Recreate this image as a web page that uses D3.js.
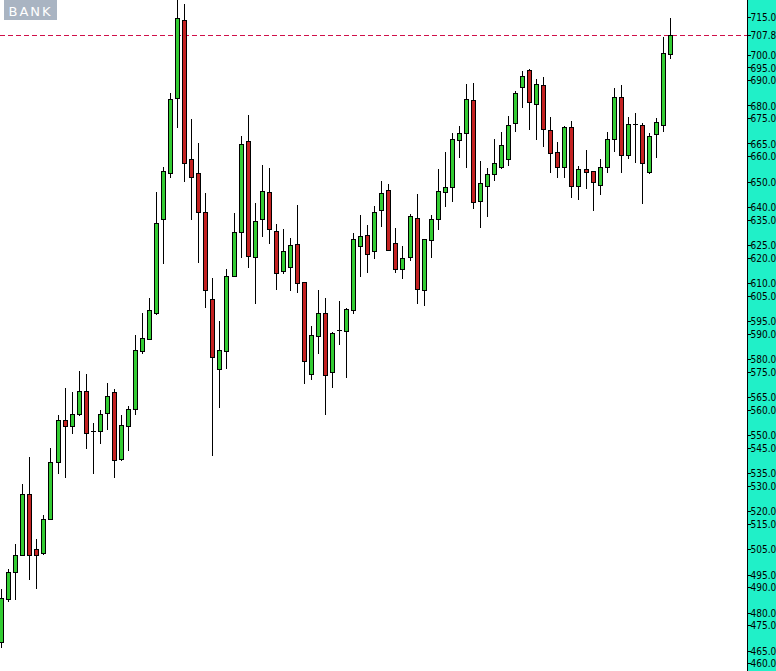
<!DOCTYPE html>
<html>
<head>
<meta charset="utf-8">
<script src="https://cdn.jsdelivr.net/npm/d3@7/dist/d3.min.js"></script>
<style>
html,body{margin:0;padding:0;background:#fff;overflow:hidden;}
svg{display:block;}
</style>
</head>
<body>
<svg id="chart" width="776" height="671"></svg>
<script>
const symbol = "BANK";
const openP = [468.4,485.4,496.2,502.9,526.6,504.9,503.6,517.1,539.2,555.8,553.4,558.2,567.2,551.7,551.7,558.9,566.8,540.5,553.7,560.1,
583.2,588.0,598.0,635.1,653.5,682.8,713.7,658.7,653.2,637.8,603.5,576.1,583.2,612.8,629.9,665.8,620.1,635.3,645.8,630.5,
614.6,616.1,625.3,610.2,574.2,589.2,598.1,575.0,591.4,591.1,599.3,624.4,628.8,622.5,638.6,646.5,625.6,615.4,620.1,635.5,
607.2,626.8,635.1,645.7,647.7,666.2,669.0,682.0,642.4,648.1,652.8,655.8,658.7,672.9,687.1,693.9,680.6,688.1,670.3,661.5,
655.6,671.4,648.3,654.8,654.1,648.7,655.6,666.6,683.2,660.6,672.6,672.2,653.6,668.6,672.3,700.2];
const highP = [489.2,497.1,507.0,530.9,541.2,509.1,518.4,545.1,557.9,568.4,566.8,575.2,573.9,554.6,559.8,570.4,568.1,557.9,561.4,589.4,
598.2,603.9,646.0,655.6,684.8,721.6,720.0,674.6,665.1,645.6,611.9,595.0,615.4,637.7,667.9,676.2,641.4,656.5,655.2,633.1,
631.2,627.8,640.7,610.2,593.0,607.2,604.0,590.7,602.8,600.0,629.6,636.8,632.8,640.3,650.2,649.0,631.5,624.5,637.2,645.1,
627.3,636.8,654.8,661.7,669.0,671.9,688.3,688.7,658.1,655.2,666.6,669.6,675.8,685.7,693.6,694.2,690.3,691.2,675.3,665.5,
671.8,673.9,656.1,662.4,654.2,658.9,669.5,686.8,688.1,675.3,676.9,672.9,669.2,675.0,706.9,714.6];
const lowP = [466.4,484.6,485.2,502.8,493.1,489.8,503.3,517.0,535.1,533.5,550.7,557.8,545.1,534.9,546.9,552.5,533.5,540.3,544.3,558.5,
582.2,587.9,597.9,617.7,651.9,671.4,650.3,635.1,618.3,600.4,542.1,560.9,576.5,612.7,620.1,616.1,602.2,628.5,625.8,607.5,
614.0,607.2,606.5,570.6,572.0,582.2,558.3,569.0,586.0,573.0,598.2,612.8,614.4,619.9,632.6,622.8,614.4,611.8,619.0,602.2,
601.5,620.1,631.1,640.4,642.4,659.8,655.6,639.4,632.2,636.5,650.6,655.3,656.4,670.0,679.3,670.8,666.9,664.1,653.9,651.9,
651.9,644.0,643.0,647.5,638.7,644.9,653.9,662.1,653.9,659.1,657.8,641.6,653.2,659.8,670.0,698.8];
const closeP = [485.7,495.9,502.9,526.6,502.9,502.9,517.1,539.2,555.8,553.4,558.3,567.2,550.7,551.7,558.5,565.4,540.1,553.8,560.1,583.5,
588.1,599.2,633.5,654.0,682.4,714.4,657.2,651.6,637.8,607.1,580.9,583.5,612.7,629.9,664.8,620.5,634.4,646.1,631.1,614.0,
622.5,624.8,610.1,579.1,589.3,598.1,573.8,590.3,591.4,599.7,627.3,628.4,621.5,637.8,645.5,622.8,615.4,619.7,636.4,607.5,
627.3,635.1,646.2,647.7,666.6,669.0,682.4,642.0,649.3,652.8,657.2,664.3,672.2,684.9,691.6,681.2,688.3,670.9,661.1,655.8,
671.4,648.3,655.0,653.9,649.7,655.6,666.6,683.2,660.6,672.6,672.6,657.4,667.9,673.3,700.6,707.8];
const tickValues = [460,465,475,480,490,495,505,515,520,530,535,545,550,560,565,575,580,590,595,605,610,620,625,635,640,650,660,665,675,680,690,695,700,715];
const currentPrice = 707.8;

const W = 776, H = 671, axisX = 747;
const svg = d3.select("#chart");
const labelFont = "'DejaVu Sans Condensed', 'DejaVu Sans', sans-serif";

const idx = d3.range(openP.length);
const x = d3.scaleBand().domain(idx).range([-1.8, 674.0]);
const y = d3.scaleLinear().domain([460, 715]).range([663.3, 16.7]);

// price axis panel
svg.append("rect").attr("x", axisX).attr("y", 0).attr("width", W - axisX).attr("height", H)
  .attr("fill", "#20f0c8");

// current price dashed line
svg.append("line")
  .attr("x1", 0).attr("x2", axisX)
  .attr("y1", Math.round(y(currentPrice)) + 0.5).attr("y2", Math.round(y(currentPrice)) + 0.5)
  .attr("stroke", "#d0104a").attr("stroke-width", 1).attr("stroke-dasharray", "5,3")
  .attr("shape-rendering", "crispEdges");

const g = svg.append("g").attr("shape-rendering", "crispEdges");
const cx = i => Math.floor(x(i) + x.bandwidth() / 2);

// wicks
g.selectAll("line.wick").data(idx).join("line").attr("class", "wick")
  .attr("x1", i => cx(i) + 0.5).attr("x2", i => cx(i) + 0.5)
  .attr("y1", i => Math.round(y(highP[i]))).attr("y2", i => Math.round(y(lowP[i])) + 1)
  .attr("stroke", "#000").attr("stroke-width", 1);

// bodies
const bodies = idx.filter(i => Math.abs(y(openP[i]) - y(closeP[i])) >= 1);
const dojis = idx.filter(i => Math.abs(y(openP[i]) - y(closeP[i])) < 1);
g.selectAll("rect.body").data(bodies).join("rect").attr("class", "body")
  .attr("x", i => cx(i) - 2 + 0.5)
  .attr("y", i => Math.round(y(Math.max(openP[i], closeP[i]))) + 0.5)
  .attr("width", 4)
  .attr("height", i => Math.max(1, Math.round(y(Math.min(openP[i], closeP[i]))) - Math.round(y(Math.max(openP[i], closeP[i])))))
  .attr("fill", i => closeP[i] >= openP[i] ? "#33cc33" : "#c42222")
  .attr("stroke", "#000").attr("stroke-width", 1);
g.selectAll("line.doji").data(dojis).join("line").attr("class", "doji")
  .attr("x1", i => cx(i) - 2).attr("x2", i => cx(i) + 3)
  .attr("y1", i => Math.round(y(closeP[i])) + 0.5).attr("y2", i => Math.round(y(closeP[i])) + 0.5)
  .attr("stroke", "#000").attr("stroke-width", 1);

// right price axis
const axis = d3.axisRight(y).tickValues(tickValues).tickSize(3).tickPadding(0)
  .tickFormat(d3.format(".1f"));
const ag = svg.append("g").attr("transform", `translate(${axisX + 0.5},0)`).call(axis);
ag.select(".domain").attr("d", `M0,0V${H}`).attr("stroke", "#000").attr("shape-rendering", "crispEdges");
ag.selectAll(".tick line").attr("stroke", "#000").attr("shape-rendering", "crispEdges");
ag.selectAll(".tick text").attr("font-family", labelFont).attr("font-size", 10).attr("fill", "#000")
  .attr("dy", "0.36em");
ag.attr("font-family", null).attr("font-size", null);

// current price label
const cp = svg.append("g").attr("transform", `translate(${axisX + 0.5},${y(currentPrice)})`);
cp.append("line").attr("x1", 0).attr("x2", 3).attr("y1", 0.5).attr("y2", 0.5).attr("stroke", "#000").attr("shape-rendering", "crispEdges");
cp.append("text").attr("x", 3).attr("dy", "0.36em").attr("font-family", labelFont).attr("font-size", 10)
  .attr("fill", "#000").text(d3.format(".1f")(currentPrice));

// symbol badge
svg.append("rect").attr("x", 4).attr("y", 0).attr("width", 53).attr("height", 20).attr("fill", "#a9b4c2");
svg.append("text").attr("x", 30.5).attr("y", 16).attr("text-anchor", "middle")
  .attr("font-family", "DejaVu Sans, sans-serif").attr("font-size", 13).attr("letter-spacing", 2)
  .attr("fill", "#fff").text(symbol);
</script>
</body>
</html>
